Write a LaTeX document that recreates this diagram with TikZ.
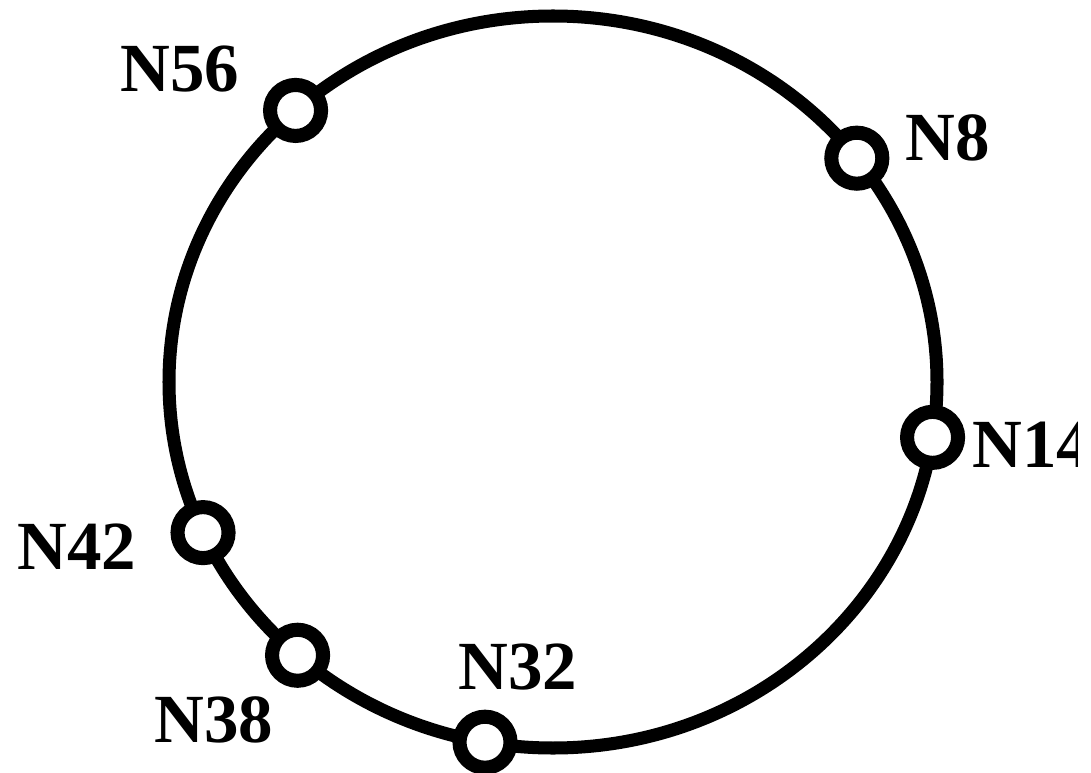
\documentclass[tikz,border=0pt]{standalone}
\usepackage{fontspec}
\setmainfont{Liberation Serif}
\usetikzlibrary{positioning}

\begin{document}
\begin{tikzpicture}[x=0.01cm, y=-0.01cm, every node/.style={font=\fontsize{19.6}{20}\selectfont\bfseries}]
\useasboundingbox (0,0) rectangle (1091,773);
\clip (0,0) rectangle (1077,773);
% the ring
\coordinate (c) at (553,382);
\draw[line width=3.7pt] (c) ellipse [x radius=384, y radius=366];
% peers on the ring
\foreach \name/\a in {n56/227.9,n8/322.3,n14/8.7,n42/155.7,n38/131.7,n32/100.2} {
  \node[circle,draw,fill=white,line width=4pt,minimum size=0.51cm,inner sep=0pt] (\name) at ([shift={(c)}]\a:384 and 366) {};
}
\foreach \name/\txt/\x/\y in {n56/N56/180/69,n8/N8/948/138,n14/N14/1032/445,n42/N42/77/547,n38/N38/214/720,n32/N32/518/667} {
  \node[inner sep=0pt] (l\name) at (\x,\y) {\txt};
}
\end{tikzpicture}
\end{document}
